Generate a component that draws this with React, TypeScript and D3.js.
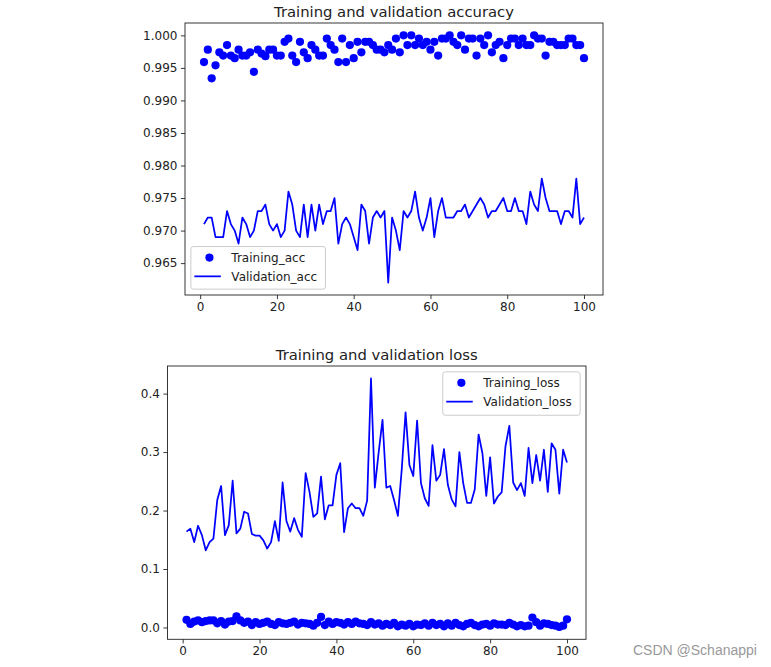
import * as d3 from 'd3';
import { useEffect, useRef } from 'react';

const epochs = d3.range(1, 101);

const trainAcc = [
  0.9959, 0.9978, 0.9934, 0.9954, 0.9974, 0.9969, 0.9985, 0.9969, 0.9965, 0.9978,
  0.9969, 0.9969, 0.9974, 0.9944, 0.9978, 0.9972, 0.9968, 0.9978, 0.9978, 0.9969,
  0.9969, 0.999, 0.9995, 0.9969, 0.9959, 0.999, 0.9974, 0.9965, 0.9985, 0.9978,
  0.9969, 0.9969, 0.9995, 0.9985, 0.9978, 0.9959, 0.9995, 0.9959, 0.9985, 0.9965,
  0.999, 0.9974, 0.999, 0.999, 0.9985, 0.9978, 0.9978, 0.9974, 0.9985, 0.9978,
  0.9995, 0.9974, 1.0, 0.9985, 1.0, 0.9985, 0.9995, 0.9985, 0.999, 0.9978,
  0.999, 0.9969, 0.9995, 0.9995, 1.0, 0.999, 0.9985, 1.0, 0.9978, 0.9995,
  0.9995, 0.9969, 0.9995, 0.9985, 1.0, 0.9974, 0.9985, 0.999, 0.9965, 0.9985,
  0.9995, 0.9995, 0.9985, 0.9995, 0.9985, 0.9985, 1.0, 0.9995, 0.9995, 0.9969,
  0.999, 0.999, 0.9985, 0.9985, 0.9985, 0.9995, 0.9995, 0.9985, 0.9985, 0.9965,
];

const valAcc = [
  0.971, 0.972, 0.972, 0.969, 0.969, 0.969, 0.973, 0.971, 0.97, 0.968,
  0.972, 0.971, 0.969, 0.97, 0.973, 0.973, 0.974, 0.971, 0.97, 0.971,
  0.969, 0.97, 0.976, 0.974, 0.97, 0.969, 0.974, 0.969, 0.974, 0.97,
  0.974, 0.971, 0.973, 0.973, 0.975, 0.968, 0.971, 0.972, 0.971, 0.969,
  0.967, 0.974, 0.973, 0.968, 0.972, 0.973, 0.972, 0.973, 0.962, 0.972,
  0.97, 0.967, 0.973, 0.972, 0.973, 0.976, 0.972, 0.97, 0.972, 0.975,
  0.969, 0.973, 0.975, 0.972, 0.972, 0.972, 0.973, 0.973, 0.974, 0.972,
  0.973, 0.974, 0.975, 0.974, 0.972, 0.973, 0.973, 0.974, 0.975, 0.973,
  0.973, 0.975, 0.973, 0.973, 0.971, 0.976, 0.974, 0.973, 0.978, 0.975,
  0.973, 0.973, 0.973, 0.971, 0.973, 0.973, 0.972, 0.978, 0.971, 0.972,
];

const trainLoss = [
  0.013, 0.006, 0.01, 0.012, 0.009, 0.011, 0.012, 0.012, 0.007, 0.011,
  0.005, 0.01, 0.011, 0.019, 0.012, 0.008, 0.01, 0.004, 0.009, 0.006,
  0.008, 0.01, 0.006, 0.004, 0.009, 0.007, 0.006, 0.008, 0.01, 0.005,
  0.008, 0.007, 0.006, 0.003, 0.008, 0.018, 0.004, 0.01, 0.006, 0.009,
  0.008, 0.005, 0.009, 0.006, 0.01, 0.007, 0.006, 0.004, 0.009, 0.005,
  0.007, 0.003, 0.006, 0.004, 0.008, 0.002, 0.005, 0.003, 0.006, 0.002,
  0.005, 0.004, 0.007, 0.003, 0.008, 0.004, 0.006, 0.002, 0.007, 0.003,
  0.008, 0.004, 0.002, 0.006, 0.008, 0.004, 0.002, 0.005, 0.006, 0.003,
  0.007, 0.005, 0.005, 0.004, 0.008, 0.005, 0.002, 0.004, 0.002, 0.003,
  0.017, 0.009, 0.003, 0.007, 0.006, 0.004, 0.003, 0.001, 0.003, 0.014,
];

const valLoss = [
  0.164, 0.169, 0.146, 0.174, 0.158, 0.132, 0.146, 0.152, 0.218, 0.242,
  0.158, 0.175, 0.251, 0.161, 0.169, 0.198, 0.195, 0.16, 0.157, 0.157,
  0.149, 0.135, 0.146, 0.182, 0.148, 0.248, 0.182, 0.164, 0.187, 0.167,
  0.155, 0.264, 0.232, 0.189, 0.195, 0.258, 0.185, 0.209, 0.209, 0.261,
  0.281, 0.163, 0.204, 0.212, 0.204, 0.204, 0.191, 0.217, 0.426, 0.239,
  0.3, 0.355, 0.239, 0.242, 0.218, 0.191, 0.27, 0.368, 0.278, 0.259,
  0.354, 0.247, 0.221, 0.208, 0.312, 0.251, 0.261, 0.305, 0.244, 0.219,
  0.207, 0.3, 0.247, 0.213, 0.213, 0.236, 0.33, 0.298, 0.225, 0.291,
  0.212, 0.224, 0.231, 0.31, 0.345, 0.248, 0.235, 0.247, 0.225, 0.307,
  0.247, 0.295, 0.251, 0.304, 0.232, 0.315, 0.304, 0.229, 0.304, 0.282,
];

const xTicks = [0, 20, 40, 60, 80, 100];
const accTicks = [0.965, 0.97, 0.975, 0.98, 0.985, 0.99, 0.995, 1.0];
const lossTicks = [0, 0.1, 0.2, 0.3, 0.4];

const FONT = 'DejaVu Sans, sans-serif';
const BLUE = '#0000ff';
const INK = '#222';

interface Panel {
  title: string;
  dots: number[];
  line: number[];
  labels: [string, string];
  yTicks: number[];
  yFormat: string;
  box: { left: number; top: number; right: number; bottom: number };
  legend: { corner: 'll' | 'ur'; width: number; height: number };
}

function pad(ext: [number, number]): [number, number] {
  const m = (ext[1] - ext[0]) * 0.05;
  return [ext[0] - m, ext[1] + m];
}

function drawPanel(svg: d3.Selection<SVGSVGElement, unknown, null, undefined>, p: Panel) {
  const { left, top, right, bottom } = p.box;
  const x = d3.scaleLinear().domain(pad([1, 100])).range([left, right]);
  const all = p.dots.concat(p.line);
  const y = d3
    .scaleLinear()
    .domain(pad(d3.extent(all) as [number, number]))
    .range([bottom, top]);

  const g = svg.append('g');

  // data
  g.append('path')
    .datum(p.line)
    .attr('fill', 'none')
    .attr('stroke', BLUE)
    .attr('stroke-width', 1.75)
    .attr('stroke-linejoin', 'round')
    .attr(
      'd',
      d3
        .line<number>()
        .x((_, i) => x(epochs[i]))
        .y((d) => y(d))
    );

  g.selectAll('circle.pt')
    .data(p.dots)
    .enter()
    .append('circle')
    .attr('class', 'pt')
    .attr('cx', (_, i) => x(epochs[i]))
    .attr('cy', (d) => y(d))
    .attr('r', 4.1)
    .attr('fill', BLUE);

  // axes
  const xAxis = g
    .append('g')
    .attr('transform', `translate(0,${bottom})`)
    .call(d3.axisBottom(x).tickValues(xTicks).tickSize(4.1).tickPadding(3.5).tickFormat(d3.format('d')));
  const yAxis = g
    .append('g')
    .attr('transform', `translate(${left},0)`)
    .call(d3.axisLeft(y).tickValues(p.yTicks).tickSize(4.1).tickPadding(3.5).tickFormat(d3.format(p.yFormat)));
  [xAxis, yAxis].forEach((a) => {
    a.select('.domain').remove();
    a.selectAll('line').attr('stroke', INK).attr('stroke-width', 0.9);
    a.selectAll('text').attr('fill', INK).style('font-family', FONT).style('font-size', '12px');
  });

  g.append('rect')
    .attr('x', left)
    .attr('y', top)
    .attr('width', right - left)
    .attr('height', bottom - top)
    .attr('fill', 'none')
    .attr('stroke', INK)
    .attr('stroke-width', 0.9);

  g.append('text')
    .attr('x', (left + right) / 2)
    .attr('y', top - 6.5)
    .attr('text-anchor', 'middle')
    .style('font-family', FONT)
    .style('font-size', '14.8px')
    .attr('fill', INK)
    .text(p.title);

  // legend
  const off = 5.85;
  const lx = p.legend.corner === 'll' ? left + off : right - off - p.legend.width;
  const ly = p.legend.corner === 'll' ? bottom - off - p.legend.height : top + off;
  const lg = g.append('g').attr('transform', `translate(${lx},${ly})`);
  lg.append('rect')
    .attr('width', p.legend.width)
    .attr('height', p.legend.height)
    .attr('rx', 2.5)
    .attr('fill', '#fff')
    .attr('fill-opacity', 0.8)
    .attr('stroke', '#cccccc')
    .attr('stroke-width', 1);
  lg.append('circle').attr('cx', 18.6).attr('cy', 11).attr('r', 4.1).attr('fill', BLUE);
  lg.append('line')
    .attr('x1', 3.5)
    .attr('x2', 30)
    .attr('y1', 29.8)
    .attr('y2', 29.8)
    .attr('stroke', BLUE)
    .attr('stroke-width', 1.75);
  lg.selectAll('text.lab')
    .data(p.labels)
    .enter()
    .append('text')
    .attr('class', 'lab')
    .attr('x', 40.5)
    .attr('y', (_, i) => 11 + i * 18.8 + 4.3)
    .style('font-family', FONT)
    .style('font-size', '12px')
    .attr('fill', INK)
    .text((d) => d);
}

export default function App() {
  const ref = useRef<SVGSVGElement | null>(null);

  useEffect(() => {
    const svg = d3.select(ref.current!);
    svg.selectAll('*').remove();

    drawPanel(svg, {
      title: 'Training and validation accuracy',
      dots: trainAcc,
      line: valAcc,
      labels: ['Training_acc', 'Validation_acc'],
      yTicks: accTicks,
      yFormat: '.3f',
      box: { left: 185, top: 23, right: 603, bottom: 295 },
      legend: { corner: 'll', width: 134.6, height: 42.6 },
    });

    drawPanel(svg, {
      title: 'Training and validation loss',
      dots: trainLoss,
      line: valLoss,
      labels: ['Training_loss', 'Validation_loss'],
      yTicks: lossTicks,
      yFormat: '.1f',
      box: { left: 167.5, top: 366, right: 586, bottom: 639.3 },
      legend: { corner: 'ur', width: 137.4, height: 43.4 },
    });

    svg
      .append('text')
      .attr('x', 633)
      .attr('y', 655)
      .style('font-family', 'Liberation Sans, Arial, sans-serif')
      .style('font-size', '14px')
      .attr('fill', '#999')
      .text('CSDN @Schanappi');
  }, []);

  return (
    <svg
      ref={ref}
      width={771}
      height={667}
      style={{ position: 'absolute', left: 0, top: 0, background: '#fff' }}
    />
  );
}
